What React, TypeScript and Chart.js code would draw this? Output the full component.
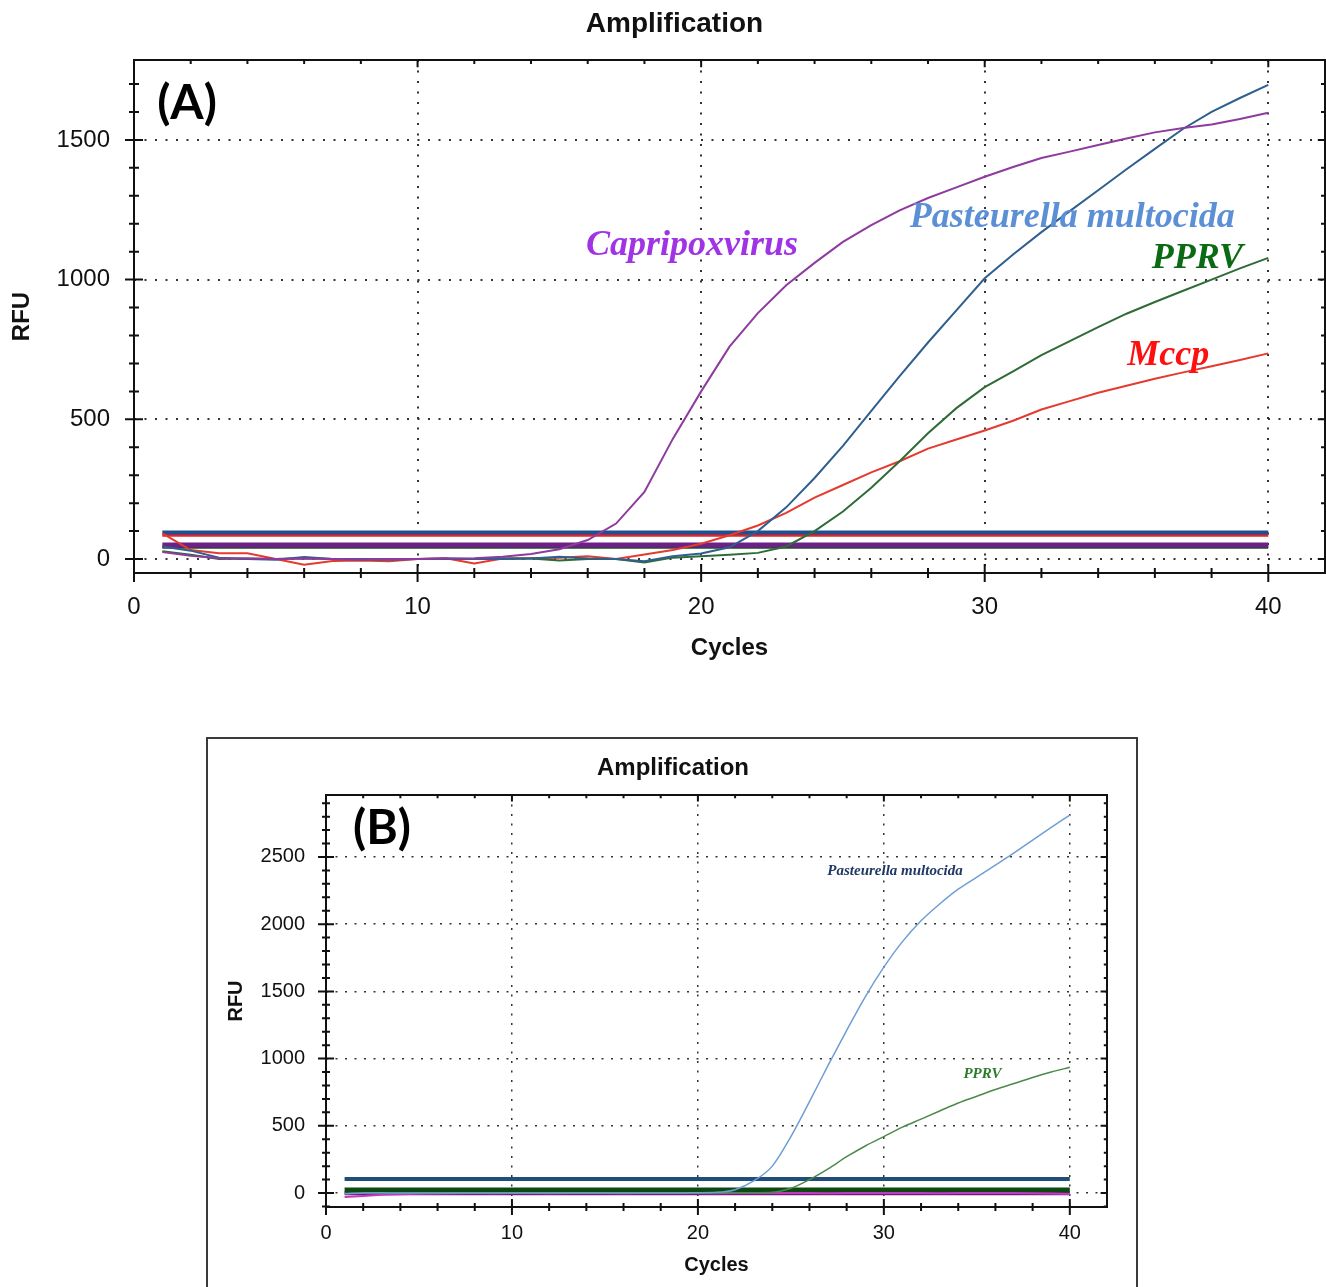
import React, { useEffect, useRef } from 'react';
import { Chart, registerables } from 'chart.js';

Chart.register(...registerables);

// ---------------- DATA: panel (A) ----------------
const cyclesA = [1, 2, 3, 4, 5, 6, 7, 8, 9, 10, 11, 12, 13, 14, 15, 16, 17, 18, 19, 20, 21, 22, 23, 24, 25, 26, 27, 28, 29, 30, 31, 32, 33, 34, 35, 36, 37, 38, 39, 40];
const capripoxA = [25, 12, 3, 2, 0, 2, 0, -2, 0, 0, 2, 3, 8, 18, 35, 68, 127, 240, 430, 600, 760, 880, 980, 1060, 1135, 1195, 1248, 1292, 1330, 1368, 1403, 1435, 1458, 1482, 1505, 1527, 1543, 1555, 1575, 1597];
const pasteurellaA = [45, 30, 5, 0, -3, 7, 0, 0, -3, 0, 2, 0, 0, 2, 8, 2, 0, -8, 10, 20, 42, 100, 185, 290, 405, 530, 655, 775, 890, 1005, 1090, 1170, 1245, 1320, 1395, 1468, 1540, 1600, 1650, 1697];
const pprvA = [28, 15, 0, 2, 0, 3, 0, -2, 0, 0, 0, 0, 2, 2, -5, 0, 0, -12, 5, 10, 15, 22, 45, 100, 170, 255, 350, 450, 540, 615, 672, 730, 780, 830, 878, 920, 960, 1000, 1040, 1078];
const mccpA = [92, 32, 21, 21, 0, -20, -7, -5, -8, 0, 3, -16, 2, 3, 5, 10, 0, 16, 32, 55, 85, 120, 165, 220, 265, 310, 350, 395, 428, 460, 495, 535, 565, 595, 620, 645, 668, 690, 712, 736];
// thresholds: Pasteurella, Mccp, Capripox, PPRV
const thresholdsA = [95, 85, 50, 42];

const xMajorTicks = [0, 10, 20, 30, 40];
const xMinorTicks = [2, 4, 6, 8, 12, 14, 16, 18, 22, 24, 26, 28, 32, 34, 36, 38];
const yMajorA = [0, 500, 1000, 1500];
const yMinorA = [100, 200, 300, 400, 600, 700, 800, 900, 1100, 1200, 1300, 1400, 1600, 1700];

// ---------------- DATA: panel (B) ----------------
const cyclesB = [1, 2, 3, 4, 5, 6, 7, 8, 9, 10, 11, 12, 13, 14, 15, 16, 17, 18, 19, 20, 21, 22, 23, 24, 25, 26, 27, 28, 29, 30, 31, 32, 33, 34, 35, 36, 37, 38, 39, 40];
const pasteurellaB = [-5, 0, 2, 0, 0, 1, 0, 0, 1, 0, 0, 0, 1, 0, 0, 0, 1, 0, 0, 2, 5, 25, 90, 200, 420, 680, 950, 1210, 1460, 1680, 1870, 2025, 2150, 2260, 2350, 2440, 2530, 2625, 2720, 2812];
const pprvB = [-3, 0, 1, 0, 0, 0, 1, 0, 0, 0, 0, 1, 0, 0, 0, 0, 0, 1, 0, 0, 0, 0, 2, 5, 35, 100, 180, 270, 350, 420, 490, 550, 610, 670, 720, 770, 815, 860, 900, 935];
const negativeB = [-30, -22, -12, -10, -5, -3, -2, 0, -1, 0, 0, -1, 0, 0, 0, -1, 0, 0, 0, 0, -1, 0, 0, 0, 0, 0, -1, 0, 0, 0, 0, 0, -1, 0, 0, 0, 0, -2, -4, -8];
// thresholds: Pasteurella, PPRV, negative
const thresholdsB = [105, 22, -2];

const yMajorB = [0, 500, 1000, 1500, 2000, 2500];
const yMinorB = [-100, 100, 200, 300, 400, 600, 700, 800, 900, 1100, 1200, 1300, 1400, 1600, 1700, 1800, 1900, 2100, 2200, 2300, 2400, 2600, 2700, 2800, 2900];

// ---------------- helpers ----------------
const SANS = "'Liberation Sans', Arial, Helvetica, sans-serif";
const SERIF = "'Liberation Serif', 'Times New Roman', serif";

const pts = (xs: number[], ys: number[]) => xs.map((x, i) => ({ x, y: ys[i] }));
const flat = (xs: number[], v: number) => [{ x: xs[0], y: v }, { x: xs[xs.length - 1], y: v }];
const plain = (v: any) => String(v);

type Note = { text: string; x: number; y: number; color: string; font: string };
type FrameCfg = {
  xMajor: number[]; xMinor: number[]; yMajor: number[]; yMinor: number[];
  major: number; minor: number; lw: number;
  tag: string; tagFont: string; tagDx: number; tagDy: number;
  notes: Note[];
};

function framePlugin(cfg: FrameCfg) {
  return {
    id: 'frame',
    afterDatasetsDraw(chart: any) {
      const { ctx, chartArea } = chart;
      const { left, right, top, bottom } = chartArea;
      const xs = chart.scales.x;
      const ys = chart.scales.y;
      ctx.save();
      ctx.strokeStyle = '#111';
      ctx.lineWidth = cfg.lw;
      ctx.strokeRect(left, top, right - left, bottom - top);
      ctx.beginPath();
      const xt = (v: number, L: number) => {
        const p = xs.getPixelForValue(v);
        ctx.moveTo(p, bottom - L); ctx.lineTo(p, bottom + L);
        ctx.moveTo(p, top); ctx.lineTo(p, top + L * 0.8);
      };
      const yt = (v: number, L: number) => {
        const p = ys.getPixelForValue(v);
        ctx.moveTo(left - L, p); ctx.lineTo(left + L, p);
        ctx.moveTo(right, p); ctx.lineTo(right - L * 0.8, p);
      };
      cfg.xMajor.forEach((v) => xt(v, cfg.major));
      cfg.xMinor.forEach((v) => xt(v, cfg.minor));
      cfg.yMajor.forEach((v) => yt(v, cfg.major));
      cfg.yMinor.forEach((v) => yt(v, cfg.minor));
      ctx.stroke();

      // panel tag
      ctx.fillStyle = '#000';
      ctx.font = cfg.tagFont;
      ctx.textAlign = 'center';
      ctx.textBaseline = 'middle';
      ctx.fillText(cfg.tag, left + cfg.tagDx, top + cfg.tagDy);

      // series annotations
      cfg.notes.forEach((n) => {
        ctx.font = n.font;
        ctx.fillStyle = n.color;
        ctx.fillText(n.text, xs.getPixelForValue(n.x), ys.getPixelForValue(n.y));
      });
      ctx.restore();
    },
  };
}

function line(label: string, data: any[], color: string, width: number, smooth = false) {
  return {
    label, data, borderColor: color, backgroundColor: color, borderWidth: width,
    pointRadius: 0, fill: false, tension: 0,
    cubicInterpolationMode: smooth ? 'monotone' : 'default',
  };
}

// ---------------- Chart A ----------------
function ChartA() {
  const ref = useRef<HTMLCanvasElement>(null);
  useEffect(() => {
    const chart = new Chart(ref.current as HTMLCanvasElement, {
      type: 'line',
      data: {
        datasets: [
          line('Capripoxvirus', pts(cyclesA, capripoxA), '#8e3a9e', 2),
          line('Pasteurella multocida', pts(cyclesA, pasteurellaA), '#2e5f8e', 2),
          line('PPRV', pts(cyclesA, pprvA), '#2f6b36', 2),
          line('Mccp', pts(cyclesA, mccpA), '#e53a2f', 2),
          line('thr P', flat(cyclesA, thresholdsA[0]), '#1f4f8f', 4),
          line('thr M', flat(cyclesA, thresholdsA[1]), '#e8202a', 3),
          line('thr C', flat(cyclesA, thresholdsA[2]), '#6e1f8a', 5),
          line('thr V', flat(cyclesA, thresholdsA[3]), '#1d4f24', 3),
        ] as any,
      },
      options: {
        responsive: false,
        animation: false,
        devicePixelRatio: 1,
        layout: { padding: { left: 24, right: 1, top: 0, bottom: 0 } },
        plugins: {
          legend: { display: false },
          tooltip: { enabled: false },
          title: {
            display: true, text: 'Amplification', color: '#111',
            font: { family: SANS, size: 28, weight: 'bold' },
            padding: { top: 7, bottom: 19.4 },
          },
        },
        scales: {
          x: {
            type: 'linear', min: 0, max: 42,
            afterBuildTicks: (s: any) => { s.ticks = xMajorTicks.map((v) => ({ value: v })); },
            afterFit: (s: any) => { s.height = 117; },
            ticks: { color: '#111', font: { family: SANS, size: 24 }, padding: 20, callback: plain },
            grid: { color: '#333', lineWidth: 2, drawTicks: false },
            border: { display: false, dash: [2, 8.5] },
            title: { display: true, text: 'Cycles', color: '#111', font: { family: SANS, size: 24, weight: 'bold' }, padding: { top: 0, bottom: 27.6 } },
          },
          y: {
            type: 'linear', min: -50, max: 1786,
            afterBuildTicks: (s: any) => { s.ticks = yMajorA.map((v) => ({ value: v })); },
            afterFit: (s: any) => { s.width = 110; },
            ticks: { color: '#111', font: { family: SANS, size: 24 }, padding: 24, callback: plain },
            grid: { color: '#333', lineWidth: 2, drawTicks: false },
            border: { display: false, dash: [2, 8.5] },
            title: { display: true, text: 'RFU', color: '#111', font: { family: SANS, size: 24, weight: 'bold' }, padding: { top: -16.4, bottom: 0 } },
          },
        },
      } as any,
      plugins: [framePlugin({
        xMajor: xMajorTicks, xMinor: xMinorTicks, yMajor: yMajorA, yMinor: yMinorA,
        major: 9, minor: 5, lw: 2,
        tag: '(A)', tagFont: `bold 48px Lato, 'Open Sans', sans-serif`, tagDx: 53, tagDy: 44,
        notes: [
          { text: 'Capripoxvirus', x: 19.68, y: 1120, color: '#a033e6', font: `italic bold 36px ${SERIF}` },
          { text: 'Pasteurella multocida', x: 33.09, y: 1222, color: '#5b8fd6', font: `italic bold 36px ${SERIF}` },
          { text: 'PPRV', x: 37.5, y: 1074, color: '#0b6b14', font: `italic bold 36px ${SERIF}` },
          { text: 'Mccp', x: 36.47, y: 726, color: '#ff1010', font: `italic bold 36px ${SERIF}` },
        ],
      })] as any,
    });
    return () => chart.destroy();
  }, []);
  return (
    <canvas ref={ref} width={1326} height={690}
      style={{ position: 'absolute', left: 0, top: 0, width: 1326, height: 690 }} />
  );
}

// ---------------- Chart B ----------------
function ChartB() {
  const ref = useRef<HTMLCanvasElement>(null);
  useEffect(() => {
    const chart = new Chart(ref.current as HTMLCanvasElement, {
      type: 'line',
      data: {
        datasets: [
          line('Pasteurella multocida', pts(cyclesB, pasteurellaB), '#6f9ed4', 1.5, true),
          line('PPRV', pts(cyclesB, pprvB), '#4b8a4b', 1.5, true),
          line('Negative', pts(cyclesB, negativeB), '#c03cc0', 2),
          line('thr P', flat(cyclesB, thresholdsB[0]), '#1f4e79', 4),
          line('thr V', flat(cyclesB, thresholdsB[1]), '#0c4a12', 5),
          line('thr N', flat(cyclesB, thresholdsB[2]), '#74187e', 4),
        ] as any,
      },
      options: {
        responsive: false,
        animation: false,
        devicePixelRatio: 1,
        layout: { padding: { left: 30, right: 28, top: 0, bottom: 0 } },
        plugins: {
          legend: { display: false },
          tooltip: { enabled: false },
          title: {
            display: true, text: 'Amplification', color: '#111',
            font: { family: SANS, size: 24, weight: 'bold' },
            padding: { top: 13.6, bottom: 12.6 },
          },
        },
        scales: {
          x: {
            type: 'linear', min: 0, max: 42,
            afterBuildTicks: (s: any) => { s.ticks = xMajorTicks.map((v) => ({ value: v })); },
            afterFit: (s: any) => { s.height = 80; },
            ticks: { color: '#111', font: { family: SANS, size: 20 }, padding: 14, callback: plain },
            grid: { color: '#333', lineWidth: 1.5, drawTicks: false },
            border: { display: false, dash: [2, 7.5] },
            title: { display: true, text: 'Cycles', color: '#111', font: { family: SANS, size: 20, weight: 'bold' }, padding: { top: 0, bottom: 10 } },
          },
          y: {
            type: 'linear', min: -104, max: 2961,
            afterBuildTicks: (s: any) => { s.ticks = yMajorB.map((v) => ({ value: v })); },
            afterFit: (s: any) => { s.width = 87; },
            ticks: { color: '#111', font: { family: SANS, size: 20 }, padding: 21, callback: plain },
            grid: { color: '#333', lineWidth: 1.5, drawTicks: false },
            border: { display: false, dash: [2, 7.5] },
            title: { display: true, text: 'RFU', color: '#111', font: { family: SANS, size: 20, weight: 'bold' }, padding: { top: -15, bottom: 0 } },
          },
        },
      } as any,
      plugins: [framePlugin({
        xMajor: xMajorTicks, xMinor: xMinorTicks, yMajor: yMajorB, yMinor: yMinorB,
        major: 8, minor: 4, lw: 2,
        tag: '(B)', tagFont: `bold 48px Lato, 'Open Sans', sans-serif`, tagDx: 56, tagDy: 34,
        notes: [
          { text: 'Pasteurella multocida', x: 30.6, y: 2396, color: '#1f3864', font: `italic bold 15px ${SERIF}` },
          { text: 'PPRV', x: 35.3, y: 885, color: '#2e7a2e', font: `italic bold 15px ${SERIF}` },
        ],
      })] as any,
    });
    return () => chart.destroy();
  }, []);
  return (
    <canvas ref={ref} width={926} height={547}
      style={{ position: 'absolute', left: 209, top: 740, width: 926, height: 547 }} />
  );
}

export default function App() {
  return (
    <div style={{ position: 'absolute', left: 0, top: 0, width: 1326, height: 1287, overflow: 'hidden', background: '#fff' }}>
      <ChartA />
      <div style={{
        position: 'absolute', left: 206, top: 737, width: 932, height: 700,
        border: '2px solid #3a3a3a', boxSizing: 'border-box',
      }} />
      <ChartB />
    </div>
  );
}
